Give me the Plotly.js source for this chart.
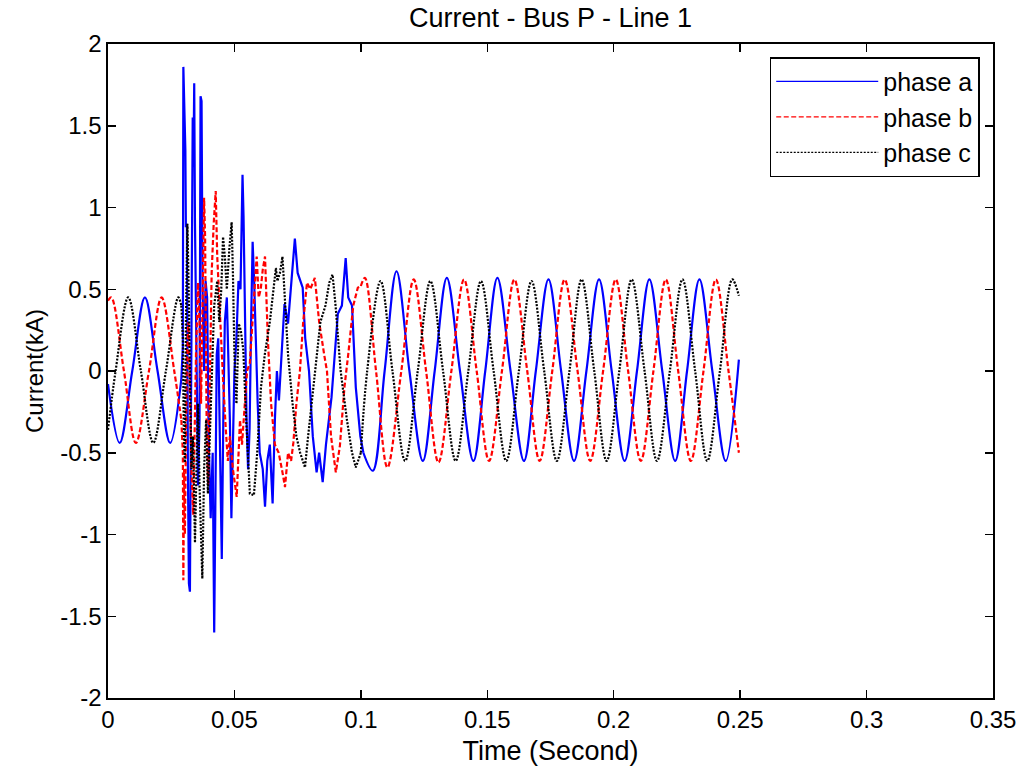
<!DOCTYPE html>
<html>
<head>
<meta charset="utf-8">
<script src="https://cdn.plot.ly/plotly-3.0.1.min.js"></script>
<style>
  html, body { margin: 0; padding: 0; background: #fff; }
  #chart { width: 1026px; height: 774px; }
</style>
</head>
<body>
<div id="chart"></div>
<script>
// ---- Data (time in s, current in kA) ----
const seriesNames = ["phase a", "phase b", "phase c"];

const timeA = [
  0, 0.0046, 0.0096, 0.0146, 0.0196, 0.0246, 0.0290,
  0.0296, 0.0298, 0.0302, 0.0306, 0.0308, 0.0312, 0.0316, 0.0320, 0.0324, 0.0328,
  0.0332, 0.0335, 0.0338, 0.0341, 0.0344, 0.0348, 0.0352, 0.0356, 0.0362, 0.0366,
  0.0370, 0.0374, 0.0380, 0.0386, 0.0392, 0.0398, 0.0406, 0.0414, 0.0420, 0.0425,
  0.0430, 0.0436, 0.0442, 0.0450, 0.0456, 0.0462, 0.0470, 0.0476, 0.0482, 0.0488,
  0.0494, 0.0500, 0.0508, 0.0516, 0.0524, 0.0532, 0.0536, 0.0542, 0.0548, 0.0554,
  0.0560, 0.0566, 0.0572, 0.0578, 0.0584, 0.0592, 0.0600, 0.0612, 0.0621, 0.0630,
  0.0640, 0.0651, 0.0660, 0.0668, 0.0676, 0.0690, 0.0698, 0.0712, 0.0725, 0.0739,
  0.0750, 0.0770, 0.0780, 0.0795, 0.0810, 0.0825, 0.0835, 0.0849, 0.0862, 0.0884,
  0.0909, 0.0925, 0.0940, 0.0950, 0.0965, 0.0980, 0.0998, 0.1010,
  0.1047, 0.1094, 0.1141, 0.1192, 0.1245, 0.1292, 0.1340, 0.1392, 0.1445, 0.1492,
  0.1540, 0.1592, 0.1645, 0.1692, 0.1742, 0.1792, 0.1843, 0.1892, 0.1942, 0.1992,
  0.2043, 0.2092, 0.2141, 0.2192, 0.2243, 0.2290, 0.2339, 0.2390, 0.2443, 0.2495
];
const currentA = [
  -0.08, -0.44, 0.0, 0.45, 0.0, -0.44, -0.05,
  0.15, 1.86, 1.5, 1.35, 0.88, 0.9, -0.6, -1.3, -1.35, -0.4,
  0.6, 1.55, 1.25, 1.76, 0.9, 0.2, -0.5, -0.7, -0.3, 1.68,
  1.65, 0.5, 0.0, 0.55, 0.45, -0.4, -0.9, -0.5, -1.6, -0.6,
  0.1, 0.2, -0.5, -1.15, -0.3, 0.3, 0.45, 0.1, -0.3, -0.9,
  -0.5, 0.0, 0.2, 0.55, 0.5, 1.2, 0.95, 0.2, -0.3, -0.6,
  -0.35, 0.3, 0.79, 0.55, 0.2, -0.2, -0.5, -0.6, -0.83, -0.55,
  -0.45, -0.81, -0.3, 0.0, -0.18, 0.2, 0.41, 0.29, 0.55, 0.81,
  0.6, 0.51, 0.2, 0.0, -0.4, -0.62, -0.5, -0.68, -0.45, -0.16,
  0.35, 0.4, 0.69, 0.45, 0.4, -0.1, -0.4, -0.5,
  -0.61, 0.0, 0.61, 0.0, -0.55, 0.0, 0.57, 0.0, -0.55, 0.0,
  0.57, 0.0, -0.55, 0.0, 0.56, 0.0, -0.55, 0.0, 0.56, 0.0,
  -0.55, 0.0, 0.56, 0.0, -0.55, 0.0, 0.56, 0.0, -0.55, 0.07
];

const timeB = [
  0, 0.0013, 0.0063, 0.0110, 0.0162, 0.0212, 0.0262, 0.0290,
  0.0296, 0.0298, 0.0301, 0.0304, 0.0308, 0.0312, 0.0318, 0.0324, 0.0330, 0.0337,
  0.0342, 0.0348, 0.0356, 0.0362, 0.0368, 0.0374, 0.0380, 0.0384, 0.0390, 0.0396,
  0.0402, 0.0410, 0.0418, 0.0426, 0.0432, 0.0443, 0.0455, 0.0466, 0.0474, 0.0482,
  0.0494, 0.0509, 0.0516, 0.0522, 0.0530, 0.0540, 0.0550, 0.0561, 0.0574, 0.0588,
  0.0596, 0.0604, 0.0612, 0.0621, 0.0632, 0.0645, 0.0660, 0.0675, 0.0690, 0.0700,
  0.0712, 0.0724, 0.0733, 0.0745, 0.0759, 0.0772, 0.0787, 0.0800, 0.0818, 0.0835,
  0.0855, 0.0866, 0.0882, 0.0901, 0.0917, 0.0935, 0.0950, 0.0970, 0.0988, 0.1000,
  0.1016, 0.1060, 0.1105, 0.1160, 0.1209, 0.1258, 0.1307, 0.1358, 0.1408, 0.1458,
  0.1507, 0.1558, 0.1607, 0.1658, 0.1707, 0.1757, 0.1806, 0.1857, 0.1907, 0.1958,
  0.2008, 0.2057, 0.2107, 0.2157, 0.2206, 0.2255, 0.2305, 0.2355, 0.2404, 0.2454,
  0.2495
];
const currentB = [
  0.43, 0.45, 0.0, -0.44, 0.0, 0.45, 0.0, -0.3,
  -0.5, -1.28, -0.6, -1.0, -0.4, 0.1, 0.3, -0.2, -0.6, -0.88,
  -0.3, 0.1, 0.54, 0.3, -0.2, 0.4, 1.06, 0.82, -0.3, -0.7,
  -0.2, 0.6, 0.9, 1.1, 0.7, 0.29, -0.05, -0.36, -0.55, -0.4,
  -0.6, -0.77, -0.5, -0.3, -0.45, -0.2, 0.0, 0.05, 0.4, 0.70,
  0.45, 0.5, 0.62, 0.70, 0.2, -0.2, -0.45, -0.5, -0.62, -0.71,
  -0.5, -0.55, -0.44, -0.2, 0.0, 0.3, 0.54, 0.5, 0.57, 0.3,
  0.1, 0.0, -0.4, -0.62, -0.46, -0.1, 0.1, 0.4, 0.51, 0.52,
  0.57, 0.0, -0.59, 0.0, 0.56, 0.0, -0.56, 0.0, 0.56, 0.0,
  -0.55, 0.0, 0.56, 0.0, -0.55, 0.0, 0.56, 0.0, -0.55, 0.0,
  0.56, 0.0, -0.55, 0.0, 0.56, 0.0, -0.55, 0.0, 0.56, 0.0,
  -0.5
];

const timeC = [
  0, 0.0030, 0.0080, 0.0130, 0.0179, 0.0229, 0.0278, 0.0290,
  0.0296, 0.0300, 0.0304, 0.0308, 0.0314, 0.0318, 0.0324, 0.0330, 0.0336, 0.0344,
  0.0350, 0.0356, 0.0362, 0.0368, 0.0373, 0.0380, 0.0388, 0.0395, 0.0402, 0.0410,
  0.0420, 0.0432, 0.0440, 0.0448, 0.0455, 0.0462, 0.0470, 0.0480, 0.0489, 0.0494,
  0.0500, 0.0508, 0.0517, 0.0525, 0.0535, 0.0546, 0.0561, 0.0577, 0.0590, 0.0605,
  0.0620, 0.0640, 0.0655, 0.0664, 0.0670, 0.0680, 0.0690, 0.0700, 0.0712, 0.0730,
  0.0745, 0.0760, 0.0779, 0.0790, 0.0805, 0.0820, 0.0840, 0.0860, 0.0875, 0.0888,
  0.0900, 0.0920, 0.0945, 0.0965, 0.0980, 0.1000,
  0.1025, 0.1078, 0.1125, 0.1175, 0.1225, 0.1275, 0.1325, 0.1375, 0.1425, 0.1475,
  0.1525, 0.1575, 0.1625, 0.1675, 0.1725, 0.1775, 0.1825, 0.1873, 0.1923, 0.1972,
  0.2022, 0.2071, 0.2122, 0.2171, 0.2222, 0.2272, 0.2322, 0.2370, 0.2420, 0.2469,
  0.2495
];
const currentC = [
  -0.36, 0.0, 0.45, 0.0, -0.44, 0.0, 0.45, 0.4,
  0.2, -0.4, -0.56, 0.3, 0.9, 0.6, -0.2, -0.6, -0.4, -1.05,
  -0.6, -0.2, -0.7, -1.1, -1.27, -0.6, -0.3, -0.75, -0.4, 0.0,
  0.4, 0.55, 0.3, 0.5, 0.82, 0.7, 0.5, 0.75, 0.91, 0.6,
  0.1, -0.2, 0.29, 0.25, 0.13, -0.28, -0.75, -0.76, -0.5, -0.1,
  0.1, 0.3, 0.5, 0.63, 0.55, 0.6, 0.70, 0.4, 0.1, -0.2,
  -0.4, -0.5, -0.59, -0.42, -0.2, 0.0, 0.3, 0.4, 0.54, 0.59,
  0.4, 0.0, -0.3, -0.5, -0.59, -0.5,
  0.0, 0.55, 0.0, -0.55, 0.0, 0.55, 0.0, -0.55, 0.0, 0.55,
  0.0, -0.55, 0.0, 0.55, 0.0, -0.55, 0.0, 0.56, 0.0, -0.55,
  0.0, 0.56, 0.0, -0.55, 0.0, 0.56, 0.0, -0.55, 0.0, 0.56,
  0.46
];

const xTickVals = [0, 0.05, 0.1, 0.15, 0.2, 0.25, 0.3, 0.35];
const xTickText = ["0", "0.05", "0.1", "0.15", "0.2", "0.25", "0.3", "0.35"];
const yTickVals = [-2, -1.5, -1, -0.5, 0, 0.5, 1, 1.5, 2];
const yTickText = ["-2", "-1.5", "-1", "-0.5", "0", "0.5", "1", "1.5", "2"];

// ---- Styling / construction ----
const FAULT_ON = 0.029, FAULT_OFF = 0.1;
const FONT = '"Liberation Sans", Arial, Helvetica, sans-serif';
const styles = [
  { color: "#0000ff", dash: "solid" },
  { color: "#ff0000", dash: "5px,2.5px" },
  { color: "#000000", dash: "2px,1.5px" }
];

function split(t, y) {
  let iOn = 0;
  for (let i = 0; i < t.length; i++) if (t[i] <= FAULT_ON) iOn = i;
  let iOff = t.length - 1;
  for (let i = t.length - 1; i >= 0; i--) if (t[i] >= FAULT_OFF) iOff = i;
  return [
    { x: t.slice(0, iOn + 1), y: y.slice(0, iOn + 1), shape: "spline" },
    { x: t.slice(iOn, iOff + 1), y: y.slice(iOn, iOff + 1), shape: "linear" },
    { x: t.slice(iOff), y: y.slice(iOff), shape: "spline" }
  ];
}

const all = [[timeA, currentA], [timeB, currentB], [timeC, currentC]];
const traces = [];
all.forEach((s, k) => {
  split(s[0], s[1]).forEach(seg => {
    traces.push({
      type: "scatter", mode: "lines", x: seg.x, y: seg.y,
      line: { color: styles[k].color, dash: styles[k].dash, width: 2.2, shape: seg.shape, smoothing: 1 },
      legendgroup: seriesNames[k], showlegend: false, hoverinfo: "skip"
    });
  });
});
// legend entries (thin sample lines like the reference)
seriesNames.forEach((n, k) => {
  traces.push({
    type: "scatter", mode: "lines", x: [null], y: [null], name: n,
    legendgroup: n, showlegend: true,
    line: { color: styles[k].color, dash: styles[k].dash, width: 1.3 }
  });
});

const axisCommon = {
  showline: true, linecolor: "#000", linewidth: 1.6, mirror: "ticks",
  ticks: "inside", ticklen: 8, tickwidth: 1.5, tickcolor: "#000",
  showgrid: false, zeroline: false,
  tickfont: { family: FONT, size: 24, color: "#000" }
};

const layout = {
  width: 1026, height: 774,
  paper_bgcolor: "#fff", plot_bgcolor: "#fff",
  margin: { l: 108, r: 33, t: 44, b: 76 },
  font: { family: FONT, color: "#000" },
  title: { text: "Current - Bus P - Line 1", font: { family: FONT, size: 27, color: "#000" },
           xref: "paper", x: 0.5, xanchor: "center", y: 0.977, yanchor: "middle" },
  xaxis: Object.assign({}, axisCommon, {
    range: [0, 0.35], tickvals: xTickVals, ticktext: xTickText,
    title: { text: "Time (Second)", font: { family: FONT, size: 27, color: "#000" }, standoff: 8 }
  }),
  yaxis: Object.assign({}, axisCommon, {
    range: [-2, 2], tickvals: yTickVals, ticktext: yTickText,
    title: { text: "Current(kA)", font: { family: FONT, size: 24, color: "#000" }, standoff: 10 }
  }),
  showlegend: true,
  legend: {
    x: 0.985, xanchor: "right", y: 0.98, yanchor: "top",
    bgcolor: "#fff", bordercolor: "#000", borderwidth: 1.5,
    font: { family: FONT, size: 25, color: "#000" },
    itemwidth: 102, tracegroupgap: 0, traceorder: "normal"
  }
};

Plotly.newPlot("chart", traces, layout, { displayModeBar: false, staticPlot: true });
</script>
</body>
</html>
